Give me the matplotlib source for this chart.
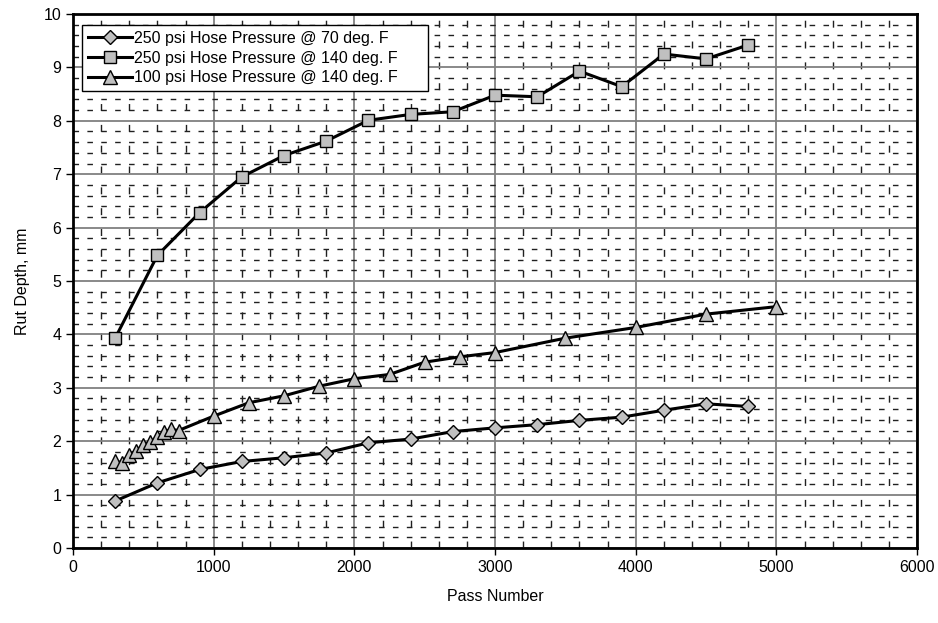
import matplotlib
matplotlib.use("Agg")
import matplotlib.pyplot as plt
from matplotlib.ticker import MultipleLocator

plt.rcParams['font.family'] = ['Liberation Sans', 'DejaVu Sans']

# 250 psi @ 70 deg F
x_70 = [300, 600, 900, 1200, 1500, 1800, 2100, 2400, 2700, 3000, 3300, 3600, 3900, 4200, 4500, 4800]
y_70 = [0.88, 1.22, 1.47, 1.62, 1.69, 1.78, 1.97, 2.04, 2.18, 2.25, 2.31, 2.39, 2.45, 2.58, 2.70, 2.65]

# 250 psi @ 140 deg F
x_250 = [300, 600, 900, 1200, 1500, 1800, 2100, 2400, 2700, 3000, 3300, 3600, 3900, 4200, 4500, 4800]
y_250 = [3.93, 5.48, 6.28, 6.95, 7.35, 7.62, 8.01, 8.12, 8.17, 8.48, 8.45, 8.93, 8.64, 9.25, 9.16, 9.42]

# 100 psi @ 140 deg F
x_100 = [300, 350, 400, 450, 500, 550, 600, 650, 700, 750, 1000, 1250, 1500, 1750, 2000,
         2250, 2500, 2750, 3000, 3500, 4000, 4500, 5000]
y_100 = [1.62, 1.60, 1.75, 1.82, 1.93, 1.98, 2.08, 2.18, 2.22, 2.20, 2.47, 2.72, 2.85, 3.03, 3.17,
         3.25, 3.48, 3.58, 3.66, 3.93, 4.13, 4.38, 4.52]

labels = ["250 psi Hose Pressure @ 70 deg. F",
          "250 psi Hose Pressure @ 140 deg. F",
          "100 psi Hose Pressure @ 140 deg. F"]

fig = plt.figure(figsize=(9.38, 6.23), dpi=100)
ax = fig.add_axes([0.0778, 0.1204, 0.9, 0.8571])

fill = '#c0c0c0'
ax.plot(x_70, y_70, color='black', lw=2.2, marker='D', ms=7, mfc=fill, mec='black', mew=1, label=labels[0], zorder=5)
ax.plot(x_250, y_250, color='black', lw=2.2, marker='s', ms=8.5, mfc=fill, mec='black', mew=1, label=labels[1], zorder=5)
ax.plot(x_100, y_100, color='black', lw=2.2, marker='^', ms=10, mfc=fill, mec='black', mew=1, label=labels[2], zorder=5)

ax.set_xlim(0, 6000)
ax.set_ylim(0, 10)
ax.xaxis.set_major_locator(MultipleLocator(1000))
ax.xaxis.set_minor_locator(MultipleLocator(200))
ax.yaxis.set_major_locator(MultipleLocator(1))
ax.yaxis.set_minor_locator(MultipleLocator(0.2))

# minor dashed grid (Excel style), major solid gray
ax.yaxis.grid(True, which='minor', color='#202020', lw=1.0, ls=(0, (4, 6)), zorder=1)
ax.xaxis.grid(True, which='minor', color='#202020', lw=1.0, ls=(0, (5, 10)), zorder=1)
ax.grid(which='major', color='#808080', lw=1.3, ls='-', zorder=2)
ax.set_axisbelow(True)

ax.tick_params(which='major', direction='out', length=5, width=1, labelsize=11.5)
ax.tick_params(which='minor', length=0)
for s in ax.spines.values():
    s.set_color('black')
    s.set_linewidth(2)

ax.set_xlabel("Pass Number", fontsize=11.5, labelpad=10)
ax.set_ylabel("Rut Depth, mm", fontsize=11.5, labelpad=10)

leg = ax.legend(loc='upper left', bbox_to_anchor=(0.0107, 0.979, 0.41, 0.0), mode='expand',
                fontsize=11.5, frameon=True, fancybox=False, edgecolor='black',
                handlelength=2.8, handletextpad=0.1, borderpad=0.35, labelspacing=0.3,
                borderaxespad=0.0)
leg.get_frame().set_linewidth(1.0)
leg.get_frame().set_alpha(1)

fig.savefig("out.png", dpi=100)
